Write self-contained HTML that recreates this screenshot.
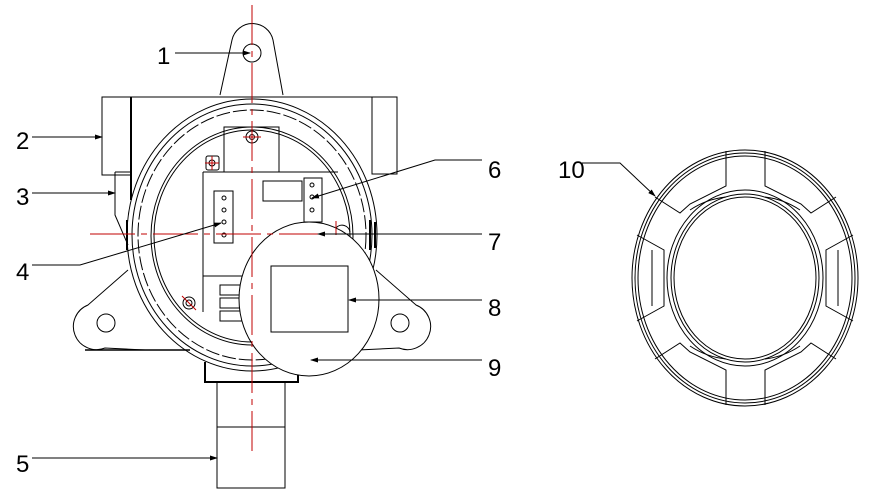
<!DOCTYPE html>
<html><head><meta charset="utf-8"><style>
html,body{margin:0;padding:0;background:#fff;width:871px;height:497px;overflow:hidden}
svg{display:block}
text{font-family:"Liberation Sans Narrow","Liberation Sans",sans-serif;font-size:24px;fill:#000}
</style></head><body>
<svg width="871" height="497" viewBox="0 0 871 497" xmlns="http://www.w3.org/2000/svg">
<defs><marker id="a" markerWidth="8" markerHeight="6" refX="7" refY="3" orient="auto" markerUnits="userSpaceOnUse"><path d="M0,0.5 L8,3 L0,5.5z" fill="#000"/></marker></defs>
<g fill="none" stroke="#000" stroke-width="1">
<path d="M220,95 L232,40 A21,21 0 0 1 273,40 L283,95"/>
<circle cx="252" cy="53" r="9"/>
<rect x="102" y="97" width="29" height="78"/>
<rect x="372" y="97" width="25" height="77"/>
<path d="M131,97 H372"/>
<path d="M131,97 V200" stroke-width="2"/>
<path d="M115,172 H131 M115,172 V215 L128,245"/>
<path d="M128,270 L88,305 A22,22 0 0 0 105,348 L145,350"/>
<circle cx="106" cy="323" r="9"/>
<path d="M376,270 L416,305 A22,22 0 0 1 399,348 L358,350"/>
<circle cx="400" cy="323" r="9"/>
<path d="M85,350 H190" stroke-width="1.5"/>
<ellipse cx="252" cy="235" rx="125" ry="136"/>
<ellipse cx="252" cy="235" rx="120" ry="131"/>
<ellipse cx="252" cy="235" rx="114" ry="125" stroke-dasharray="14,3"/>
<ellipse cx="252" cy="236" rx="101" ry="109"/>
<ellipse cx="252" cy="236" rx="98" ry="106"/>
<path d="M370,220 V250 M375,222 V248" stroke-width="2"/>
<path d="M127,220 V250" stroke-width="2"/>
<path d="M224,172 V127 H279 V172"/>
<circle cx="252" cy="137" r="6"/><circle cx="252" cy="137" r="2.5"/>
<rect x="206" y="156" width="13" height="14" rx="2"/><circle cx="212" cy="163" r="3"/>
<path d="M203,172 H338 M203,172 V312 M203,276 H250"/>
<rect x="214" y="191" width="19" height="52"/>
<circle cx="224" cy="198" r="2"/><circle cx="224" cy="210" r="2"/><circle cx="224" cy="222" r="2"/><circle cx="224" cy="235" r="2"/>
<rect x="263" y="181" width="39" height="20"/>
<rect x="304" y="178" width="18" height="44"/>
<circle cx="312" cy="185" r="2"/><circle cx="312" cy="197" r="2"/><circle cx="312" cy="210" r="2"/>
<circle cx="310" cy="235" r="5"/>
<path d="M336,228 A8,8 0 0 1 350,232"/>
<rect x="220" y="285" width="22" height="10"/><rect x="220" y="298" width="22" height="10"/><rect x="220" y="311" width="22" height="10"/>
<circle cx="189" cy="303" r="6"/><circle cx="189" cy="303" r="3"/>
<path d="M205,362 V382 H298 V368" stroke-width="2"/>
<rect x="217" y="382" width="68" height="106"/>
<path d="M217,427 H285"/>
<ellipse cx="309" cy="299" rx="70" ry="77" fill="#fff"/>
<rect x="271" y="266" width="77" height="66"/>
<ellipse cx="745" cy="278" rx="113" ry="128"/>
<ellipse cx="745" cy="278" rx="110" ry="125"/>
<ellipse cx="745" cy="278" rx="107" ry="122"/>
<ellipse cx="745" cy="278" rx="78" ry="88"/>
<ellipse cx="745" cy="278" rx="74" ry="84"/>
<ellipse cx="745" cy="278" rx="71" ry="81"/>
<path d="M726,151 V186 L690,204 L680,213 L655,197 M765,151 V186 L801,204 L811,213 L836,197"/>
<path d="M726,405 V370 L690,352 L680,343 L655,359 M765,405 V370 L801,352 L811,343 L836,359"/>
<path d="M637,235 L664,250 V306 L637,321 M853,235 L826,250 V306 L853,321"/>
<path d="M652,250 V306 M838,250 V306 M690,210 A80,80 0 0 1 726,197 M800,210 A80,80 0 0 0 765,197 M690,346 A80,80 0 0 0 726,359 M800,346 A80,80 0 0 1 765,359"/>
</g>
<g stroke="#c00000" stroke-width="1" fill="none">
<path d="M252,5 V455" stroke-dasharray="40,6,6,6"/>
<path d="M90,234 H352" stroke-dasharray="45,6,6,6"/>
<path d="M243,137 H261 M205,163 H219 M212,156 V170 M336,221 V235 M182,296 L196,310"/>
</g>
<g stroke="#000" stroke-width="1" fill="none" marker-end="url(#a)">
<path d="M175,53 H250"/>
<path d="M32,137 H102"/>
<path d="M32,193 H115"/>
<path d="M32,265 H80 L221,223"/>
<path d="M32,458 H217"/>
<path d="M482,160 H435 L312,198"/>
<path d="M482,234 H318"/>
<path d="M482,300 H349"/>
<path d="M482,360 H311"/>
<path d="M582,163 H620 L655,196"/>
</g>
<text x="157" y="64">1</text>
<text x="16" y="149">2</text>
<text x="16" y="205">3</text>
<text x="16" y="280">4</text>
<text x="16" y="472">5</text>
<text x="488" y="178">6</text>
<text x="488" y="250">7</text>
<text x="488" y="316">8</text>
<text x="488" y="376">9</text>
<text x="558" y="178">10</text>
</svg>
</body></html>
